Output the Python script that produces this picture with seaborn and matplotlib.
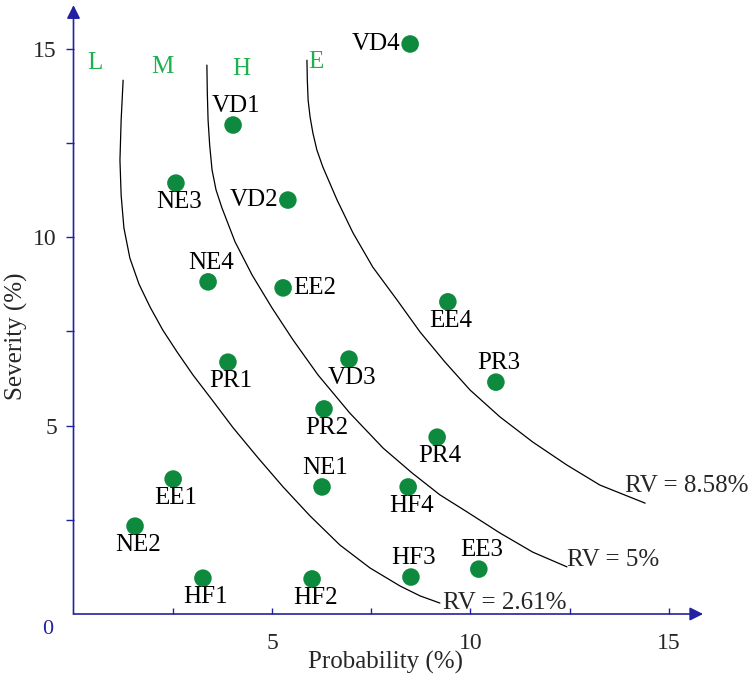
import matplotlib
matplotlib.use("Agg")
import matplotlib.pyplot as plt
import pandas as pd
import seaborn as sns

# risk items: probability (%) vs severity (%)
items = ["VD1", "VD2", "VD3", "VD4", "NE1", "NE2", "NE3", "NE4",
         "EE1", "EE2", "EE3", "EE4", "PR1", "PR2", "PR3", "PR4",
         "HF1", "HF2", "HF3", "HF4"]
probability = [4.02, 5.40, 6.94, 8.48, 6.26, 1.55, 2.58, 3.39,
               2.51, 5.28, 10.21, 9.43, 3.89, 6.31, 10.64, 9.16,
               3.26, 6.01, 8.50, 8.43]
severity = [12.97, 10.98, 6.76, 15.12, 3.37, 2.33, 11.43, 8.81,
            3.58, 8.65, 1.19, 8.28, 6.68, 5.44, 6.15, 4.69,
            0.95, 0.93, 0.98, 3.37]

# iso-risk curves
rv_names = ["RV = 2.61%", "RV = 5%", "RV = 8.58%"]
rv1_p = [1.25, 1.20, 1.17, 1.20, 1.27, 1.42, 1.65, 1.93, 2.25, 2.61, 3.01,
         3.49, 4.02, 4.65, 5.28, 5.96, 6.71, 7.47, 8.23, 8.73, 9.23]
rv1_s = [14.16, 13.10, 12.04, 11.11, 10.24, 9.44, 8.75, 8.14, 7.53, 6.95, 6.34,
         5.68, 4.94, 4.14, 3.37, 2.60, 1.83, 1.22, 0.74, 0.48, 0.29]
rv2_p = [3.36, 3.37, 3.39, 3.43, 3.49, 3.59, 3.74, 4.07, 4.50, 5.00, 5.53,
         6.16, 6.96, 7.80, 8.53, 9.23, 9.91, 10.74, 11.57, 12.43]
rv2_s = [14.56, 13.85, 13.10, 12.44, 11.78, 11.25, 10.77, 9.87, 8.99, 8.12, 7.27,
         6.34, 5.33, 4.40, 3.74, 3.16, 2.71, 2.15, 1.64, 1.25]
rv3_p = [5.88, 5.89, 5.91, 5.96, 6.03, 6.13, 6.28, 6.64, 7.04, 7.54, 8.15,
         8.73, 9.36, 9.99, 10.74, 11.57, 12.43, 13.26, 14.40]
rv3_s = [14.69, 14.16, 13.63, 13.18, 12.76, 12.31, 11.86, 10.98, 10.11, 9.20, 8.33,
         7.48, 6.68, 5.94, 5.23, 4.56, 3.95, 3.42, 2.94]

zones = ["L", "M", "H", "E"]

# placement / style (not data)
label_side = ["above", "left", "below", "left", "above", "below", "below", "above",
              "below", "right", "above", "below", "below", "below", "above", "below",
              "below", "below", "above", "below"]
zone_pos = [(0.54, 14.62), (2.25, 14.51), (4.22, 14.46), (6.11, 14.64)]
rv_label_pos = [(9.31, 0.29), (12.43, 1.43), (13.89, 3.40)]

DOT_GREEN = "#0e8a3e"
ZONE_GREEN = "#1fb04f"
NAVY = "#2222a0"
XMAX, YMAX = 15.86, 16.15

sns.set_theme(style="white")
plt.rcParams["font.family"] = ["Liberation Serif", "DejaVu Serif"]

fig = plt.figure(figsize=(7.5, 6.78), dpi=100)
ax = fig.add_axes([0.098, 0.0944, 0.8395, 0.898])

curves = pd.concat([
    pd.DataFrame({"p": p, "s": s, "curve": name})
    for name, p, s in zip(rv_names, [rv1_p, rv2_p, rv3_p], [rv1_s, rv2_s, rv3_s])
])
sns.lineplot(data=curves, x="p", y="s", units="curve", estimator=None, sort=False,
             color="black", linewidth=0.9, ax=ax)

points = pd.DataFrame({"item": items, "p": probability, "s": severity})
sns.scatterplot(data=points, x="p", y="s", s=160, color=DOT_GREEN, edgecolor="none",
                ax=ax, zorder=3)

offsets = {"above": ((3, 19), "center"), "below": ((3, -19), "center"),
           "left": ((-10, 0), "right"), "right": ((10, 0), "left")}
for name, p, s, side in zip(items, probability, severity, label_side):
    off, ha = offsets[side]
    ax.annotate(name, (p, s), xytext=off, textcoords="offset pixels",
                ha=ha, va="center", fontsize=18, color="black")

for z, (zx, zy) in zip(zones, zone_pos):
    ax.text(zx, zy, z, fontsize=18, color=ZONE_GREEN, ha="center", va="center")

for name, (tx, ty) in zip(rv_names, rv_label_pos):
    ax.text(tx, ty, name, fontsize=18, ha="left", va="center", clip_on=False)

# axes with arrow heads
for s in ax.spines.values():
    s.set_visible(False)
arrow = dict(arrowstyle="-|>", color=NAVY, lw=1.2, mutation_scale=20,
             shrinkA=0, shrinkB=0)
ax.annotate("", xy=(XMAX, 0), xytext=(0, 0), arrowprops=arrow, annotation_clip=False)
ax.annotate("", xy=(0, YMAX), xytext=(0, 0), arrowprops=arrow, annotation_clip=False)

ax.set_xlim(0, XMAX)
ax.set_ylim(0, YMAX)
ax.set_xticks([2.5, 5, 7.5, 10, 12.5, 15])
ax.set_xticklabels(["", "5", "", "10", "", "15"])
ax.set_yticks([2.5, 5, 7.5, 10, 12.5, 15])
ax.set_yticklabels(["", "5", "", "10", "", "15"])
ax.tick_params(axis="x", direction="in", length=4, width=1, color=NAVY,
               pad=14, labelsize=17, bottom=True)
ax.tick_params(axis="y", direction="out", length=6, width=1, color=NAVY,
               pad=6, labelsize=17, left=True)
ax.grid(False)

ax.text(-0.64, -0.40, "0", color=NAVY, fontsize=16, ha="center", va="center",
        clip_on=False)

ax.set_xlabel("Probability (%)", fontsize=18)
ax.xaxis.label.set_va("center")
ax.xaxis.set_label_coords(0.495, -0.08)
ax.set_ylabel("Severity (%)", fontsize=18)
ax.yaxis.label.set_va("center")
ax.yaxis.set_label_coords(-0.09, 0.456)

fig.savefig("out.png", dpi=100)
